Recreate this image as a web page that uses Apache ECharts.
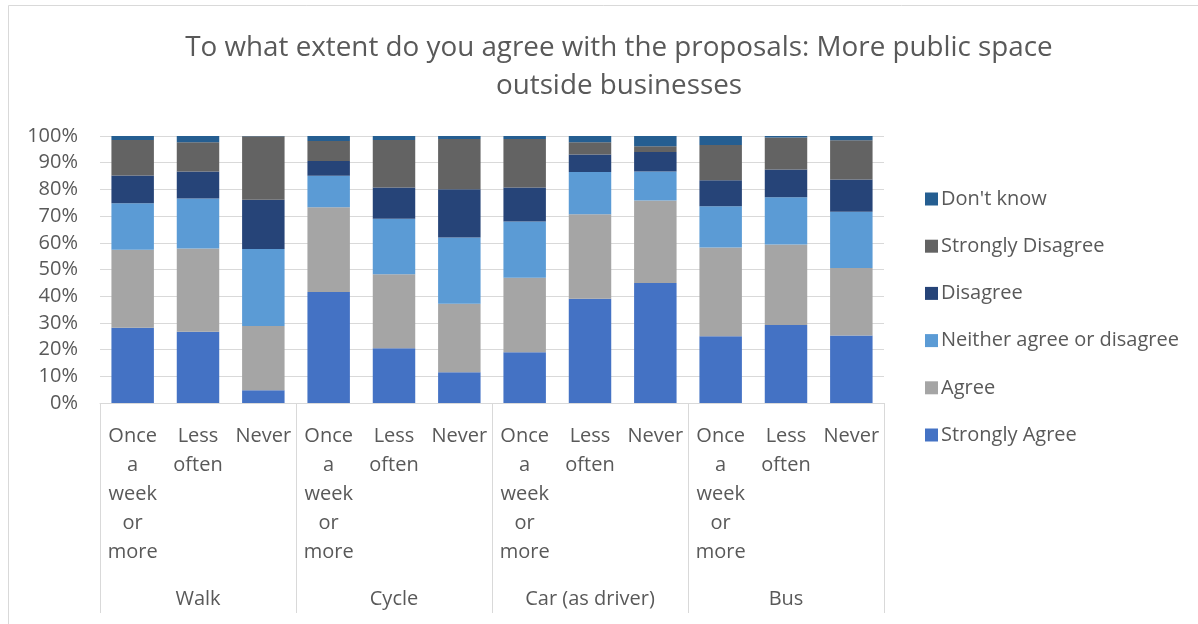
<!DOCTYPE html>
<html>
<head>
<meta charset="utf-8">
<script src="https://cdn.jsdelivr.net/npm/echarts@6/dist/echarts.min.js"></script>
<style>
  html, body { margin: 0; padding: 0; background: #fff; }
  #chart { width: 1198px; height: 624px; }
</style>
</head>
<body>
<div id="chart"></div>
<script>
// Survey responses by travel mode and frequency of use (percent of respondents)
const groups = ['Walk', 'Cycle', 'Car (as driver)', 'Bus'];
const frequencies = ['Once\na\nweek\nor\nmore', 'Less\noften', 'Never'];
const categories = groups.flatMap(() => frequencies);

const responseNames = ['Strongly Agree', 'Agree', 'Neither agree or disagree', 'Disagree', 'Strongly Disagree', "Don't know"];
const responseColors = ['#4472C4', '#A5A5A5', '#5B9BD5', '#264478', '#636363', '#255E91'];

// Order within each array: Walk(once, less, never), Cycle(...), Car(...), Bus(...)
const stronglyAgree    = [28.2, 26.7,  4.8, 41.6, 20.5, 11.5, 19.0, 39.0, 44.9, 25.0, 29.2, 25.3];
const agree            = [29.2, 31.2, 24.0, 31.7, 27.7, 25.7, 27.9, 31.7, 30.9, 33.2, 30.2, 25.3];
const neither          = [17.4, 18.7, 28.9, 11.8, 20.8, 24.8, 21.1, 15.8, 10.9, 15.5, 17.7, 21.0];
const disagree         = [10.4, 10.1, 18.4,  5.5, 11.7, 18.1, 12.7,  6.6,  7.3,  9.7, 10.4, 12.1];
const stronglyDisagree = [13.3, 11.0, 23.8,  7.5, 17.8, 18.8, 18.2,  4.6,  2.2, 13.2, 11.9, 14.7];
const dontKnow         = [ 1.5,  2.3,  0.1,  1.9,  1.5,  1.1,  1.1,  2.3,  3.8,  3.4,  0.6,  1.6];

const seriesValues = [stronglyAgree, agree, neither, disagree, stronglyDisagree, dontKnow];
const yTicks = { min: 0, max: 100, interval: 10 };

const FONT = '"Open Sans", Lato, sans-serif';
const TEXT = '#595959';
const GRID = '#D9D9D9';

const chart = echarts.init(document.getElementById('chart'), null, { renderer: 'canvas' });

chart.setOption({
  backgroundColor: '#fff',
  animation: false,
  textStyle: { fontFamily: FONT, color: TEXT },
  title: {
    text: 'To what extent do you agree with the proposals: More public space\noutside businesses',
    left: 614,
    top: 24,
    textAlign: 'center',
    textStyle: { fontFamily: FONT, fontSize: 27.8, fontWeight: 'normal', color: TEXT, lineHeight: 38 }
  },
  graphic: [{
    type: 'rect',
    silent: true,
    shape: { x: 8.5, y: 5.5, width: 1300, height: 700 },
    style: { fill: 'none', stroke: GRID, lineWidth: 1 }
  }],
  legend: {
    orient: 'vertical',
    left: 920,
    top: 184,
    itemWidth: 13,
    itemHeight: 13,
    itemGap: 27.2,
    icon: 'rect',
    data: responseNames.slice().reverse(),
    textStyle: { fontFamily: FONT, fontSize: 20, color: TEXT, lineHeight: 20, padding: [0, 0, 0, -2] }
  },
  grid: { left: 100, right: 314, top: 136, bottom: 221, containLabel: false },
  xAxis: [
    {
      type: 'category',
      data: categories,
      position: 'bottom',
      axisLine: { show: true, lineStyle: { color: GRID, width: 1 } },
      axisTick: { show: false },
      axisLabel: {
        interval: 0,
        margin: 19,
        fontFamily: FONT,
        fontSize: 20,
        color: TEXT,
        lineHeight: 29,
        align: 'center'
      }
    },
    {
      type: 'category',
      data: groups,
      position: 'bottom',
      offset: 0,
      axisLine: { show: false },
      axisTick: { show: true, length: 210, lineStyle: { color: GRID, width: 1 } },
      axisLabel: { interval: 0, margin: 186, fontFamily: FONT, fontSize: 20, color: TEXT }
    }
  ],
  yAxis: {
    type: 'value',
    min: yTicks.min,
    max: yTicks.max,
    interval: yTicks.interval,
    axisLine: { show: false },
    axisTick: { show: false },
    splitLine: { lineStyle: { color: GRID, width: 1 } },
    axisLabel: { formatter: '{value}%', margin: 22, fontFamily: FONT, fontSize: 20, color: TEXT }
  },
  series: responseNames.map((name, i) => ({
    name,
    type: 'bar',
    stack: 'total',
    xAxisIndex: 0,
    barCategoryGap: '35%',
    itemStyle: { color: responseColors[i] },
    data: seriesValues[i]
  }))
});
</script>
</body>
</html>
